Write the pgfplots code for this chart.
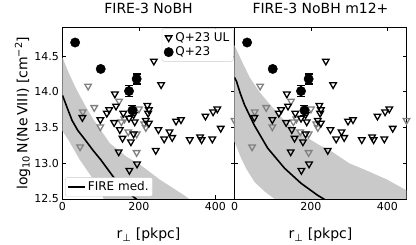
\documentclass[border=0pt]{standalone}
\usepackage{fontspec}
\setmainfont{DejaVu Sans}
\usepackage{pgfplots}
\usepackage{pgfplotstable}
\pgfplotsset{compat=1.18}

\pgfplotstableread{
x y
52 13.64
99 13.61
116 13.70
122 13.75
137 13.97
140 13.80
135 13.57
150 13.47
157 13.35
159 13.70
147 13.16
174 13.63
189 13.58
186 13.41
179 13.30
175 12.90
195 12.99
186 13.68
218 13.60
222 13.81
226 13.75
224 13.70
226 13.56
239 14.43
258 14.10
244 13.18
251 13.47
266 13.34
280 13.44
287 13.36
297 13.59
310 13.61
333 13.33
360 13.37
364 13.33
392 13.34
374 13.66
394 13.72
405 13.76
414 13.49
}\ulblack

\pgfplotstableread{
x y
46 13.23
53 13.72
67 14.08
83 13.78
99 13.51
148 13.87
154 13.58
162 13.62
172 13.44
194 13.41
194 13.15
200 13.76
214 13.55
218 13.50
450 13.60
}\ulgray

\pgfplotstableread{
x y e
33 14.69 0.0
100 14.32 0.02
194 14.18 0.07
174 14.01 0.08
183 13.74 0.07
}\detdata

\pgfplotstableread{
x y
0 14.48
15 14.28
35 14.05
60 13.80
80 13.62
124 13.28
168 13.09
203 12.98
255 12.77
316 12.56
345 12.45
345 12.40
112 12.40
112 12.45
100 12.60
76 12.81
45 13.05
15 13.33
0 13.45
}\bandA

\pgfplotstableread{
x y
0 13.95
5 13.88
12 13.78
25 13.60
40 13.46
59 13.33
80 13.18
100 13.05
133 12.81
165 12.62
195 12.49
}\medA

\pgfplotstableread{
x y
0 14.65
20 14.42
40 14.20
65 14.00
90 13.84
130 13.60
175 13.41
220 13.26
250 13.18
300 13.00
345 12.90
400 12.77
450 12.62
455 12.60
455 12.40
110 12.40
105 12.50
80 12.60
52 12.74
30 12.93
15 13.10
0 13.30
}\bandB

\pgfplotstableread{
x y
0 14.20
5 14.15
15 13.98
26 13.82
52 13.53
87 13.21
131 12.93
174 12.72
218 12.55
240 12.48
}\medB

\pgfplotsset{
  panel/.style={
    width=172pt, height=171.5pt, scale only axis,
    xmin=0, xmax=450, ymin=12.5, ymax=14.9,
    xtick={0,200,400}, ytick={12.5,13,13.5,14,14.5},
    tick align=inside, major tick length=3.5pt,
    axis line style={line width=0.8pt},
    every tick/.style={black, line width=0.8pt},
    /pgf/number format/assume math mode=true,
    ticklabel style={font=\fontsize{11}{13}\selectfont},
    yticklabel style={/pgf/number format/.cd, fixed, fixed zerofill, precision=1},
    title style={at={(axis description cs:0.5,1)}, anchor=base, yshift=7.5pt, font=\fontsize{14}{16}\selectfont},
    xlabel={r\textsubscript{⊥} [pkpc]},
    xlabel style={at={(axis description cs:0.5,0)}, anchor=base, yshift=-40pt, font=\fontsize{14}{16}\selectfont},
  },
  ulb/.style={only marks, mark=triangle, mark size=3.8pt, black, mark options={rotate=180, line width=1.3pt}},
  ulg/.style={only marks, mark=triangle, mark size=3.8pt, gray, mark options={rotate=180, line width=1.3pt}},
  det/.style={only marks, mark=*, mark size=4.7pt, black,
    error bars/.cd, y dir=both, y explicit,
    error bar style={line width=1.2pt, black},
    error mark options={line width=1.2pt, mark size=4pt, black, rotate=90}},
  band/.style={fill=gray!42, draw=none, forget plot},
  med/.style={black, line width=1.6pt, forget plot},
  leg/.style={draw=gray!40, rounded corners=2pt, fill=white,
    font=\fontsize{12}{14}\selectfont, inner sep=2pt, row sep=0pt},
}

\begin{document}
\begin{tikzpicture}
\useasboundingbox (-62.5pt,-46pt) rectangle (353.5pt,199pt);
\begin{axis}[panel, at={(0pt,0pt)}, anchor=south west,
  title={FIRE-3 NoBH},
  ylabel={log\textsubscript{10}\,N(Ne\,VIII) [cm\textsuperscript{−2}]},
  ylabel style={at={(axis description cs:-0.2326,0.5)}, anchor=center, font=\fontsize{14}{16}\selectfont},
  legend style={leg, at={(0.995,0.995)}, anchor=north east},
  legend cell align=left]
\addplot[band] table {\bandA};
\addplot[med] table {\medA};
\addplot[ulg, forget plot] table {\ulgray};
\addplot[ulb] table {\ulblack};
\addlegendentry{Q+23 UL}
\addplot[det] table[y error=e] {\detdata};
\addlegendentry{Q+23}
\end{axis}
\begin{axis}[width=172pt, height=171.5pt, scale only axis, at={(0pt,0pt)}, anchor=south west,
  hide axis, xmin=0, xmax=1, ymin=0, ymax=1,
  legend style={leg, at={(0.015,0.015)}, anchor=south west}, legend cell align=left]
\addlegendimage{black, line width=1.6pt}
\addlegendentry{FIRE med.}
\end{axis}
\begin{axis}[panel, at={(172pt,0pt)}, anchor=south west,
  title={FIRE-3 NoBH m12+},
  yticklabels={}]
\addplot[band] table {\bandB};
\addplot[med] table {\medB};
\addplot[ulg, forget plot] table {\ulgray};
\addplot[ulb] table {\ulblack};
\addplot[det] table[y error=e] {\detdata};
\end{axis}
\end{tikzpicture}
\end{document}
